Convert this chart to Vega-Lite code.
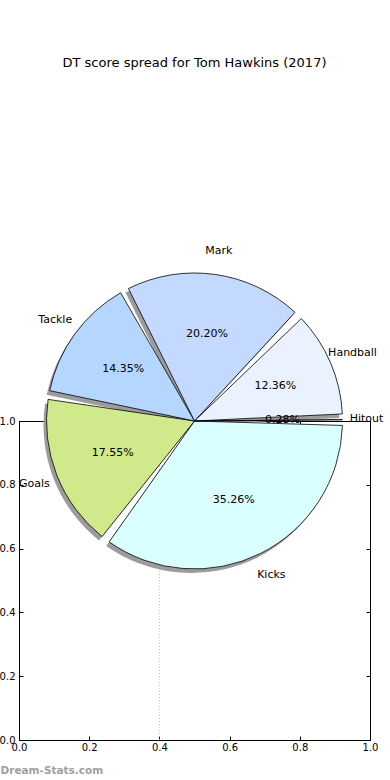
{
  "$schema": "https://vega.github.io/schema/vega-lite/v6.json",
  "width": 351,
  "height": 319,
  "autosize": {"type": "none"},
  "padding": {"left": 19, "top": 421, "right": 20, "bottom": 40},
  "background": "white",
  "title": {"text": "DT score spread for Tom Hawkins (2017)", "frame": "group", "anchor": "middle", "offset": 175, "font": "DejaVu Sans", "fontSize": 13, "fontWeight": "normal", "color": "black"},
  "config": {
    "view": {"stroke": "black", "strokeWidth": 1},
    "font": "DejaVu Sans",
    "axis": {"labelFont": "DejaVu Sans", "labelFontSize": 10, "labelColor": "black", "tickColor": "black", "domain": false, "grid": false, "zindex": 0, "labelFlush": false, "labelOverlap": false}
  },
  "data": {"values": [
    {"label": "Kicks", "share": 0.3526, "idx": 1},
    {"label": "Goals", "share": 0.1755, "idx": 2},
    {"label": "Tackle", "share": 0.1435, "idx": 3},
    {"label": "Mark", "share": 0.2020, "idx": 4},
    {"label": "Handball", "share": 0.1236, "idx": 5},
    {"label": "Hitout", "share": 0.0028, "idx": 6}
  ]},
  "resolve": {"axis": {"x": "independent", "y": "independent"}},
  "layer": [
    {
      "data": {"values": [{"xpos": 0.4}]},
      "mark": {"type": "rule", "color": "#bbbbbb", "strokeDash": [1, 2], "strokeWidth": 1},
      "encoding": {
        "x": {"field": "xpos", "type": "quantitative", "scale": {"domain": [0, 1], "nice": false, "zero": false},
          "axis": {"orient": "bottom", "values": [0, 0.2, 0.4, 0.6, 0.8, 1], "format": ".1f", "tickSize": -4, "labelPadding": 6,
            "title": "Dream-Stats.com", "titleAnchor": "start", "titleAlign": "left", "titleX": -19, "titleY": 30, "titleBaseline": "middle",
            "titleColor": "#a0a0a0", "titleFontWeight": "bold", "titleFontSize": 10.5, "titleFont": "DejaVu Sans"}},
        "y": {"datum": 0, "type": "quantitative", "scale": {"domain": [0, 1], "nice": false, "zero": false},
          "axis": {"orient": "left", "values": [0, 0.2, 0.4, 0.6, 0.8, 1], "format": ".1f", "tickSize": -4, "labelPadding": 8, "title": null}},
        "y2": {"datum": 1}
      }
    },
    {
      "mark": {"type": "arc", "color": "#9c9c9c", "radius": 148, "padAngle": 0.06, "xOffset": -3, "yOffset": 4},
      "encoding": {
        "theta": {"field": "share", "type": "quantitative", "stack": true, "scale": {"range": [-4.71238898, 1.57079633]}},
        "order": {"field": "idx", "type": "quantitative"},
        "x": {"datum": 0.5, "type": "quantitative", "axis": {"orient": "top", "values": [0, 0.2, 0.4, 0.6, 0.8, 1], "labels": false, "tickSize": -4, "title": null}},
        "y": {"datum": 1, "type": "quantitative", "axis": {"orient": "right", "values": [0, 0.2, 0.4, 0.6, 0.8, 1], "labels": false, "tickSize": -4, "title": null}}
      }
    },
    {
      "mark": {"type": "arc", "radius": 148, "padAngle": 0.06, "stroke": "black", "strokeWidth": 0.8},
      "encoding": {
        "theta": {"field": "share", "type": "quantitative", "stack": true},
        "order": {"field": "idx", "type": "quantitative"},
        "color": {"field": "label", "type": "nominal", "legend": null,
          "scale": {"domain": ["Kicks", "Goals", "Tackle", "Mark", "Handball", "Hitout"], "range": ["#d9ffff", "#cfe98b", "#b4d6ff", "#c4d9ff", "#eaf2ff", "#ffffff"]}},
        "x": {"datum": 0.5, "type": "quantitative", "axis": null},
        "y": {"datum": 1, "type": "quantitative", "axis": null}
      }
    },
    {
      "mark": {"type": "text", "radius": 88, "fontSize": 11, "font": "DejaVu Sans", "color": "black"},
      "encoding": {
        "theta": {"field": "share", "type": "quantitative", "stack": true},
        "order": {"field": "idx", "type": "quantitative"},
        "text": {"field": "share", "type": "quantitative", "format": ".2%"},
        "x": {"datum": 0.5, "type": "quantitative", "axis": null},
        "y": {"datum": 1, "type": "quantitative", "axis": null}
      }
    },
    {
      "mark": {"type": "text", "radius": 172, "fontSize": 11, "font": "DejaVu Sans", "color": "black"},
      "encoding": {
        "theta": {"field": "share", "type": "quantitative", "stack": true},
        "order": {"field": "idx", "type": "quantitative"},
        "text": {"field": "label", "type": "nominal"},
        "x": {"datum": 0.5, "type": "quantitative", "axis": null},
        "y": {"datum": 1, "type": "quantitative", "axis": null}
      }
    }
  ]
}
